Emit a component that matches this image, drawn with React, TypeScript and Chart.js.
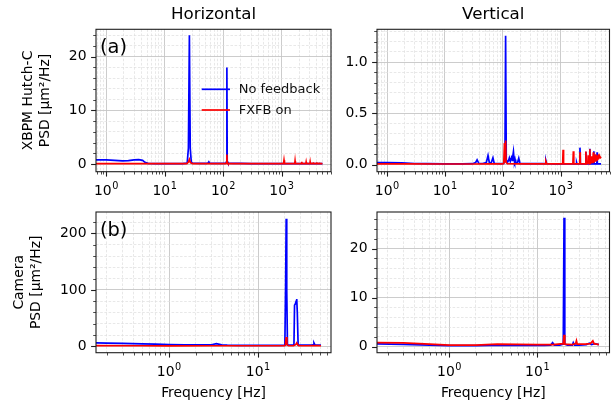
import React, { useEffect, useRef } from "react";
import { Chart, registerables } from "chart.js";

Chart.register(...registerables);

type Pair = [number, number];

// ===== Data: [frequency (Hz), PSD (µm²/Hz)] =====
// (a) XBPM Hutch-C, Horizontal
const xbpmHorizNoFeedback: Pair[] = [
  [0.67, 0.8], [1.0, 0.8], [1.4, 0.7], [1.9, 0.6], [2.4, 0.65], [3.0, 0.8], [3.6, 0.85],
  [4.2, 0.7], [4.6, 0.35], [5.2, 0.15], [7, 0.12], [10, 0.12], [15, 0.12], [20, 0.12],
  [24.3, 0.2], [25.5, 3], [26.5, 24], [27.4, 3], [28.6, 0.3], [30, 0.2],
  [40, 0.15], [52, 0.15], [55, 0.2], [57, 0.45], [59, 0.2], [62, 0.15], [80, 0.15],
  [100, 0.15], [112, 0.2], [114.5, 0.5], [116, 18], [117.5, 0.5], [121, 0.2], [150, 0.15],
  [200, 0.15], [300, 0.12], [500, 0.12], [1000, 0.1], [2000, 0.1], [3000, 0.1], [5000, 0.1],
];
const xbpmHorizFxfb: Pair[] = [
  [0.67, 0.1], [2, 0.1], [5, 0.1], [10, 0.1], [20, 0.1], [24, 0.1], [25.5, 0.4], [26.5, 0.9],
  [27.6, 0.3], [30, 0.1], [60, 0.1], [100, 0.1], [112, 0.1], [114.5, 0.3], [116, 1.8],
  [117.5, 0.3], [121, 0.1], [200, 0.1], [500, 0.1], [1080, 0.1], [1100, 0.75], [1120, 0.1],
  [1680, 0.1], [1700, 0.6], [1720, 0.1], [2190, 0.1], [2215, 0.45], [2240, 0.1],
  [2600, 0.1], [2630, 0.4], [2660, 0.1], [3050, 0.1], [3080, 0.4], [3110, 0.1],
  [3450, 0.1], [3480, 0.35], [3510, 0.1], [3960, 0.1], [3990, 0.35], [4020, 0.1],
  [4410, 0.1], [4440, 0.3], [4470, 0.1], [5000, 0.1],
];
// (a) XBPM Hutch-C, Vertical
const xbpmVertNoFeedback: Pair[] = [
  [0.67, 0.018], [1.0, 0.018], [1.8, 0.016], [3, 0.01], [5, 0.008], [10, 0.006], [20, 0.006],
  [30, 0.008], [34, 0.02], [36, 0.046], [38.5, 0.012], [45, 0.01], [52, 0.02], [55.6, 0.088],
  [58.5, 0.02], [63, 0.015], [67.6, 0.065], [71, 0.012], [90, 0.008], [104, 0.01], [109, 0.05],
  [112, 1.258], [115, 0.05], [120, 0.02], [126, 0.04], [130, 0.065], [135, 0.03], [140, 0.06],
  [143, 0.088], [147, 0.04], [150, 0.09], [153, 0.125], [157, 0.05], [160, 0.03], [163, 0.05],
  [167, 0.02], [180, 0.02], [189, 0.062], [198, 0.01], [250, 0.008], [500, 0.008], [540, 0.008],
  [556, 0.04], [575, 0.008], [800, 0.006], [1000, 0.006], [1500, 0.006], [1860, 0.006],
  [1890, 0.02], [1920, 0.006], [2120, 0.006], [2160, 0.165], [2200, 0.006], [2700, 0.006],
  [2735, 0.125], [2770, 0.006], [3170, 0.006], [3207, 0.155], [3240, 0.006], [3720, 0.006],
  [3757, 0.13], [3790, 0.006], [4230, 0.006], [4270, 0.12], [4310, 0.006], [5000, 0.006],
];
const xbpmVertFxfb: Pair[] = [
  [0.67, 0.006], [2, 0.006], [10, 0.005], [30, 0.005], [60, 0.006], [100, 0.006], [104, 0.01],
  [107, 0.21], [109, 0.02], [110.5, 0.05], [112, 0.235], [114, 0.02], [120, 0.008], [200, 0.006],
  [500, 0.006], [540, 0.006], [556, 0.03], [575, 0.006], [1000, 0.006], [1085, 0.006],
  [1104, 0.145], [1125, 0.006], [1630, 0.006], [1660, 0.13], [1690, 0.006], [2140, 0.006],
  [2165, 0.12], [2190, 0.006], [2700, 0.006], [2735, 0.128], [2770, 0.006], [2950, 0.01],
  [2990, 0.09], [3030, 0.01], [3170, 0.01], [3207, 0.15], [3240, 0.01], [3400, 0.02],
  [3450, 0.08], [3500, 0.02], [3600, 0.03], [3680, 0.12], [3720, 0.03], [3757, 0.11],
  [3800, 0.03], [3950, 0.04], [4000, 0.1], [4050, 0.04], [4200, 0.05], [4270, 0.09],
  [4330, 0.05], [4450, 0.06], [4500, 0.1], [4560, 0.06], [4700, 0.07], [4750, 0.08],
  [4850, 0.07], [5000, 0.06],
];
// (b) Camera, Horizontal
const cameraHorizNoFeedback: Pair[] = [
  [0.151, 6], [0.2, 5.8], [0.3, 5.2], [0.5, 4.4], [0.7, 3.8], [1.0, 3.2], [1.5, 2.8], [2, 2.5],
  [2.6, 2.4], [3.0, 2.8], [3.4, 4.7], [3.9, 2.5], [4.5, 2.0], [6, 1.8], [8, 1.7], [10, 1.7],
  [14, 1.6], [18, 1.6], [20.0, 2], [20.4, 110], [20.7, 226], [21.0, 100], [21.4, 2], [23, 2],
  [25.3, 2.5], [25.7, 73], [26.2, 75], [26.8, 80], [27.2, 84], [27.6, 60], [28.2, 2], [30, 2],
  [35, 2], [40, 2], [41.5, 2.5], [42.5, 5.9], [43.5, 2.5], [47, 2], [51, 2],
];
const cameraHorizFxfb: Pair[] = [
  [0.151, 1.2], [0.5, 1], [1, 0.9], [3, 1], [10, 1], [19.9, 1], [20.3, 3], [20.7, 16.5],
  [21.1, 3], [22, 1], [25, 1], [26.5, 3], [27.2, 6], [27.9, 3], [28.7, 1], [35, 1], [45, 1.2],
  [51, 1],
];
// (b) Camera, Vertical
const cameraVertNoFeedback: Pair[] = [
  [0.151, 0.55], [0.3, 0.45], [0.6, 0.3], [1.0, 0.2], [2, 0.2], [4, 0.3], [8, 0.25], [12, 0.25],
  [14.2, 0.3], [14.9, 0.8], [15.6, 0.3], [18, 0.3], [19.7, 0.5], [20.1, 26.3], [20.5, 0.5],
  [22, 0.3], [25, 0.3], [25.6, 0.8], [26.5, 0.3], [30, 0.3], [36, 0.4], [39, 0.7], [41, 0.4],
  [45, 0.6], [50, 0.4],
];
const cameraVertFxfb: Pair[] = [
  [0.151, 0.82], [0.3, 0.75], [0.6, 0.5], [1.0, 0.3], [2, 0.3], [3.5, 0.5], [6, 0.45], [10, 0.4],
  [15, 0.4], [19.7, 0.6], [20.1, 2.4], [20.5, 0.5], [25, 0.4], [27.2, 0.6], [27.8, 1.2],
  [28.4, 0.5], [35, 0.5], [40, 0.6], [42.7, 1.17], [44, 0.6], [47, 0.5], [50, 0.4],
];

const seriesNames = ["No feedback", "FXFB on"];
const seriesColors = ["#0000ff", "#ff0000"];
const columnTitles = ["Horizontal", "Vertical"];
const xbpmYLabel = ["XBPM Hutch-C", "PSD [μm²/Hz]"];
const cameraYLabel = ["Camera", "PSD [μm²/Hz]"];
const panelTags = ["(a)", "(b)"];
const freqAxisLabel = "Frequency [Hz]";
const xbpmFreqRange = [0.67, 7000];
const cameraFreqRange = [0.151, 66];

// ===== Layout / style =====
const FIG_W = 615;
const FIG_H = 405;
const FONT = "'DejaVu Sans', 'Liberation Sans', sans-serif";
const TICK_FS = 13.9;
const TITLE_FS = 16.7;
const INK = "#000000";
const SPINE = "#1e1e1e";
const MAJOR_GRID = "#c6c6c6";
const MINOR_GRID = "#dedede";
const LINE_W = 1.7;

type Area = { l: number; t: number; r: number; b: number };
type Spec = {
  id: string;
  area: Area;
  xRange: number[];
  yRange: number[];
  yMajor: number;
  yMinor: number;
  yDecimals: number;
  blue: Pair[];
  red: Pair[];
  title?: string;
  yTitle?: string[];
  yTitleLeft?: number;
  xTitle?: boolean;
  tag?: string;
  legend?: boolean;
};

const panels: Spec[] = [
  {
    id: "tl", area: { l: 96, t: 29.3, r: 331, b: 171.7 }, xRange: xbpmFreqRange,
    yRange: [-1.4, 25.1], yMajor: 10, yMinor: 2, yDecimals: 0,
    blue: xbpmHorizNoFeedback, red: xbpmHorizFxfb, title: columnTitles[0],
    yTitle: xbpmYLabel, yTitleLeft: 20.2, tag: panelTags[0], legend: true,
  },
  {
    id: "tr", area: { l: 377, t: 29.3, r: 609.5, b: 171.7 }, xRange: xbpmFreqRange,
    yRange: [-0.07, 1.32], yMajor: 0.5, yMinor: 0.1, yDecimals: 1,
    blue: xbpmVertNoFeedback, red: xbpmVertFxfb, title: columnTitles[1],
  },
  {
    id: "bl", area: { l: 96, t: 212, r: 331, b: 352.7 }, xRange: cameraFreqRange,
    yRange: [-11.3, 238.1], yMajor: 100, yMinor: 20, yDecimals: 0,
    blue: cameraHorizNoFeedback, red: cameraHorizFxfb,
    yTitle: cameraYLabel, yTitleLeft: 10.9, xTitle: true, tag: panelTags[1],
  },
  {
    id: "br", area: { l: 377, t: 212, r: 609.5, b: 352.7 }, xRange: cameraFreqRange,
    yRange: [-1.25, 27.5], yMajor: 10, yMinor: 2, yDecimals: 0,
    blue: cameraVertNoFeedback, red: cameraVertFxfb, xTitle: true,
  },
];

function isDecade(v: number) {
  const l = Math.log10(v);
  return Math.abs(l - Math.round(l)) < 1e-9;
}
function logTicks(min: number, max: number) {
  const out: number[] = [];
  for (let e = Math.floor(Math.log10(min)); e <= Math.ceil(Math.log10(max)); e++) {
    for (let k = 1; k <= 9; k++) {
      const v = Number((k * Math.pow(10, e)).toPrecision(6));
      if (v >= min && v <= max) out.push(v);
    }
  }
  return out;
}
function linTicks(min: number, max: number, step: number) {
  const out: number[] = [];
  for (let k = Math.ceil(min / step - 1e-9); k * step <= max + 1e-9; k++) {
    out.push(Number((k * step).toFixed(6)));
  }
  return out;
}
function isMajorLin(v: number, major: number) {
  return Math.abs(v / major - Math.round(v / major)) < 1e-6;
}

function decorPlugin(p: Spec) {
  return {
    id: "decor_" + p.id,
    afterDraw(chart: any) {
      const ctx: CanvasRenderingContext2D = chart.ctx;
      const a = chart.chartArea;
      const xs = chart.scales.x;
      const ys = chart.scales.y;
      ctx.save();
      ctx.strokeStyle = SPINE;
      // tick marks
      for (const t of xs.ticks) {
        const maj = isDecade(t.value);
        const px = Math.round(xs.getPixelForValue(t.value)) + 0.5;
        if (px < a.left - 1 || px > a.right + 1) continue;
        ctx.lineWidth = maj ? 1.1 : 0.8;
        ctx.beginPath();
        ctx.moveTo(px, a.bottom);
        ctx.lineTo(px, a.bottom + (maj ? 4.9 : 2.8));
        ctx.stroke();
      }
      for (const t of ys.ticks) {
        const maj = isMajorLin(t.value, p.yMajor);
        const py = Math.round(ys.getPixelForValue(t.value)) + 0.5;
        ctx.lineWidth = maj ? 1.1 : 0.8;
        ctx.beginPath();
        ctx.moveTo(a.left, py);
        ctx.lineTo(a.left - (maj ? 4.9 : 2.8), py);
        ctx.stroke();
      }
      // spines
      ctx.lineWidth = 1.1;
      ctx.strokeRect(a.left, a.top, a.right - a.left, a.bottom - a.top);
      // x tick labels (10^n)
      ctx.fillStyle = INK;
      ctx.textBaseline = "alphabetic";
      ctx.textAlign = "left";
      for (const t of xs.ticks) {
        if (!isDecade(t.value)) continue;
        const px = xs.getPixelForValue(t.value);
        const e = Math.round(Math.log10(t.value));
        const ex = e < 0 ? "\u2212" + Math.abs(e) : String(e);
        ctx.font = `${TICK_FS}px ${FONT}`;
        const w1 = ctx.measureText("10").width;
        ctx.font = `${TICK_FS * 0.7}px ${FONT}`;
        const w2 = ctx.measureText(ex).width;
        const x0 = px - (w1 + w2 + 0.6) / 2;
        const by = a.bottom + 23.5;
        ctx.font = `${TICK_FS}px ${FONT}`;
        ctx.fillText("10", x0, by);
        ctx.font = `${TICK_FS * 0.7}px ${FONT}`;
        ctx.fillText(ex, x0 + w1 + 0.6, by - 6.5);
      }
      // panel tag
      if (p.tag) {
        ctx.font = `19.4px ${FONT}`;
        ctx.fillText(p.tag, a.left + 4, a.top + 24);
      }
      // legend
      if (p.legend) {
        const lx = a.left + 105.7;
        const rows = [a.top + 60, a.top + 80.7];
        ctx.font = `13px ${FONT}`;
        ctx.textBaseline = "middle";
        for (let i = 0; i < 2; i++) {
          ctx.strokeStyle = seriesColors[i];
          ctx.lineWidth = LINE_W;
          ctx.beginPath();
          ctx.moveTo(lx, rows[i]);
          ctx.lineTo(lx + 28.3, rows[i]);
          ctx.stroke();
          ctx.fillStyle = "#111";
          ctx.fillText(seriesNames[i], lx + 37, rows[i] + 0.5);
        }
      }
      ctx.restore();
    },
  };
}

function buildConfig(p: Spec): any {
  const xH = p.xTitle ? 49.4 : 30;
  const padLeft = p.yTitle ? (p.yTitleLeft as number) : p.area.l - 50;
  const titleLH = TITLE_FS * 1.2;
  const titleTop = 4.9;
  const titleBottom = p.area.t - titleTop - titleLH;
  const [xMin, xMax] = p.xRange;
  const [yMin, yMax] = p.yRange;
  const isMaj = (c: any) =>
    c.tick && (c.scale.axis === "x" ? isDecade(c.tick.value) : isMajorLin(c.tick.value, p.yMajor));
  const gridColor = (c: any) => (isMaj(c) ? MAJOR_GRID : MINOR_GRID);
  const gridWidth = (c: any) => (isMaj(c) ? 0.9 : 0.7);
  const gridDash = (c: any) => (isMaj(c) ? [] : [2.6, 1.6]);

  return {
    type: "line",
    data: {
      datasets: [
        {
          label: seriesNames[0],
          data: p.blue.map(([x, y]) => ({ x, y })),
          borderColor: seriesColors[0],
          borderWidth: LINE_W,
          pointRadius: 0,
          tension: 0,
          fill: false,
          order: 1,
        },
        {
          label: seriesNames[1],
          data: p.red.map(([x, y]) => ({ x, y })),
          borderColor: seriesColors[1],
          borderWidth: LINE_W,
          pointRadius: 0,
          tension: 0,
          fill: false,
          order: 0,
        },
      ],
    },
    options: {
      responsive: false,
      maintainAspectRatio: false,
      devicePixelRatio: 1,
      animation: false,
      events: [],
      layout: {
        padding: {
          left: padLeft,
          right: FIG_W - p.area.r,
          top: p.title ? 0 : p.area.t,
          bottom: FIG_H - p.area.b - xH,
        },
      },
      plugins: {
        legend: { display: false },
        tooltip: { enabled: false },
        title: {
          display: !!p.title,
          text: p.title || "",
          fullSize: false,
          color: INK,
          font: { family: FONT, size: TITLE_FS, weight: "normal" },
          padding: { top: titleTop, bottom: titleBottom },
        },
      },
      scales: {
        x: {
          type: "logarithmic",
          min: xMin,
          max: xMax,
          afterBuildTicks: (s: any) => {
            s.ticks = logTicks(xMin, xMax).map((v) => ({ value: v }));
          },
          afterFit: (s: any) => {
            s.height = xH;
          },
          ticks: { display: false, autoSkip: false },
          grid: { color: gridColor, lineWidth: gridWidth, drawTicks: false },
          border: { display: false, dash: gridDash },
          title: {
            display: !!p.xTitle,
            text: freqAxisLabel,
            color: INK,
            font: { family: FONT, size: TICK_FS },
            padding: { top: 0, bottom: 0 },
          },
        },
        y: {
          type: "linear",
          min: yMin,
          max: yMax,
          afterBuildTicks: (s: any) => {
            s.ticks = linTicks(yMin, yMax, p.yMinor).map((v) => ({ value: v }));
          },
          afterFit: (s: any) => {
            s.width = p.area.l - padLeft;
          },
          ticks: {
            autoSkip: false,
            padding: 9.5,
            color: INK,
            font: { family: FONT, size: TICK_FS },
            callback: (v: number) => (isMajorLin(v, p.yMajor) ? Number(v).toFixed(p.yDecimals) : ""),
          },
          grid: { color: gridColor, lineWidth: gridWidth, drawTicks: false },
          border: { display: false, dash: gridDash },
          title: {
            display: !!p.yTitle,
            text: p.yTitle || "",
            color: INK,
            font: { family: FONT, size: TICK_FS },
            padding: { top: 0, bottom: 0 },
          },
        },
      },
    },
    plugins: [decorPlugin(p)],
  };
}

function PanelChart({ spec }: { spec: Spec }) {
  const ref = useRef<HTMLCanvasElement>(null);
  useEffect(() => {
    if (!ref.current) return;
    const chart = new Chart(ref.current, buildConfig(spec));
    return () => chart.destroy();
  }, [spec]);
  return (
    <canvas
      ref={ref}
      width={FIG_W}
      height={FIG_H}
      style={{ position: "absolute", left: 0, top: 0, width: FIG_W, height: FIG_H }}
    />
  );
}

export default function App() {
  return (
    <div
      style={{
        position: "absolute",
        left: 0,
        top: 0,
        width: FIG_W,
        height: FIG_H,
        background: "#ffffff",
        overflow: "hidden",
      }}
    >
      {panels.map((p) => (
        <PanelChart key={p.id} spec={p} />
      ))}
    </div>
  );
}
